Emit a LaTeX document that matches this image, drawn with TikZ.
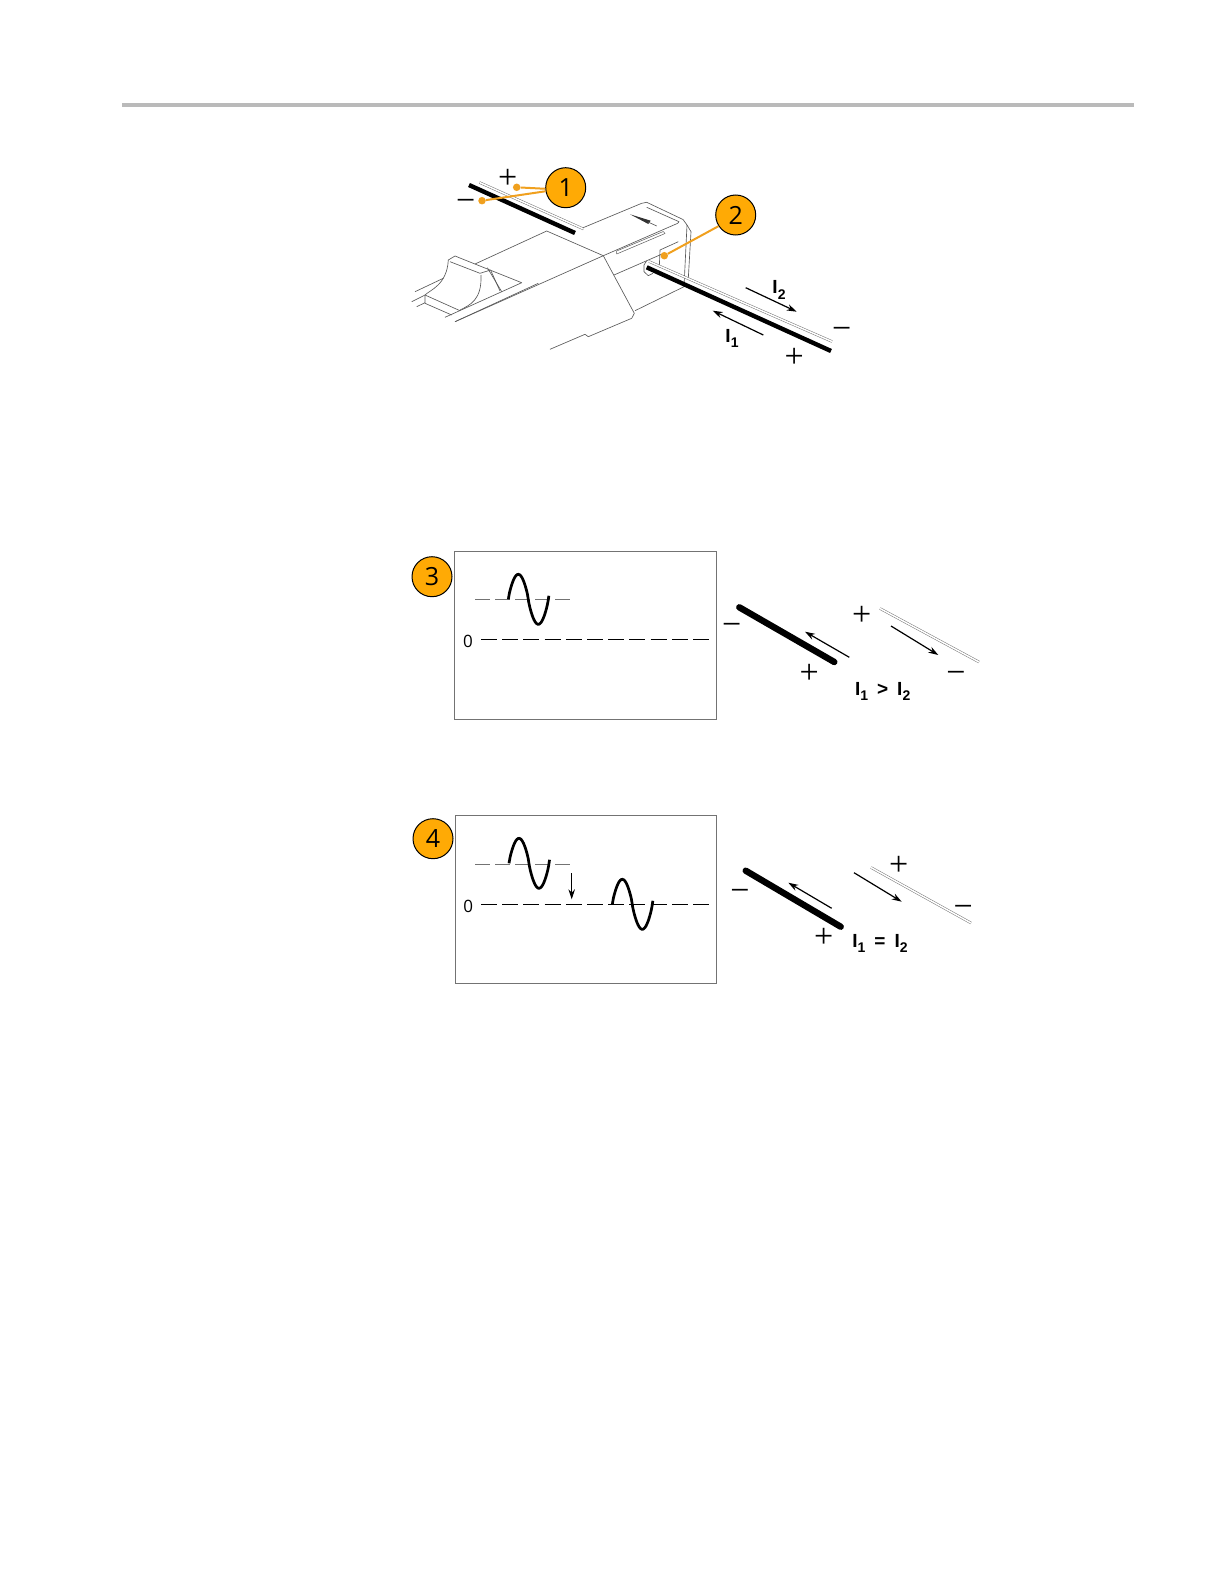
\documentclass[tikz,border=0pt]{standalone}
\usepackage{fontspec}
\setsansfont{Open Sans}
\newfontfamily\curfont{Liberation Sans}
\newfontfamily\signfont{Liberation Serif}
\usetikzlibrary{arrows.meta}
\definecolor{callout}{RGB}{255,170,5}
\definecolor{leadline}{RGB}{240,160,30}
\newcommand{\cursub}[1]{\raisebox{-0.28em}{\fontsize{14}{14}\selectfont #1}}
\tikzset{
  badge/.style={circle,draw=black,line width=1pt,fill=callout,minimum size=40pt,inner sep=0pt,font=\fontsize{25}{25}\selectfont\sffamily},
  leader/.style={leadline,line width=2pt},
  leaddot/.style={circle,fill=leadline,minimum size=7.5pt,inner sep=0pt},
  outline/.style={black!65,line width=0.65pt,line join=round},
  cable/.style={black,line width=4.4pt},
  fatcable/.style={black,line width=6.4pt,line cap=round},
  pair/.style={black!55,line width=0.5pt,double,double distance=1.5pt},
  flow/.style={-{Stealth[length=10pt,width=6.5pt]},line width=1.2pt},
  sign/.style={inner sep=0pt,yshift=-2pt,font=\fontsize{34}{34}\selectfont\signfont},
  minus/.style={sign,yshift=-5pt},
  cur/.style={inner sep=0pt,font=\fontsize{19}{19}\selectfont\curfont\bfseries},
  zero/.style={inner sep=0pt,font=\fontsize{17}{17}\selectfont\sffamily},
  screen/.style={draw=black!55,line width=0.8pt},
  level/.style={black!55,line width=0.7pt,dash pattern=on 15pt off 5pt},
  ground/.style={black,line width=1.4pt,dash pattern=on 16pt off 5.2pt},
  wave/.pic={\draw[black,line width=2.7pt] plot[smooth,domain=0:365,samples=37] (\x/9,{-25*sin(\x)*pow(abs(sin(\x))+0.001,-0.2)});}
}
\begin{document}
\begin{tikzpicture}[x=1pt,y=-1pt]
\useasboundingbox (0,0) rectangle (1224,1584);
%
\draw[black!27,line width=3.5pt](122,105)--(1134,105);
%
% probe body
\draw[outline](475,264)--(546.7,231)--(603.3,255.7)--(634.3,313.3)--(631.7,318.3)--(588.3,336.7)--(585,334.3)--(550,349.3);
\draw[outline](603.3,255.7)--(455,321.7);
% probe head
\draw[outline](581.7,228.3)--(641.7,203.3)--(646.7,202.3)--(683,219.5)--(687,225)--(691,231.7)--(688.3,278.3);
\draw[outline](646.7,207.3)--(679,221.7)--(677.7,223.3)--(603.3,255.7);
\draw[outline](687,225)--(684,286.7)--(635,310.7);
\draw[outline](614,275)--(661,254.5);
\draw[outline](660,250)--(678.3,241.7);
\draw[outline](660,250)--(659.3,267.3);
\draw[outline](646.7,260.7)--(644,265)--(644,271.7)--(648.3,275.7)--(653,273.3);
\draw[outline,line width=0.5pt](616.7,251)--(663.3,231.5)--(665,233.5)--(616.7,254)--cycle;
\fill[black!80](630,214.3)--(650.7,220.7)--(648.3,224)--cycle;
\draw[outline](648,222)--(656.7,226);
% slider
\draw[outline](448.3,260)--(455,256)--(521.7,282.7)--(445,317.3);
\draw[outline](450,261.7)--(480,273.3)--(490.7,270);
\draw[outline](487.3,267.7)--(501.7,291.7);
\draw[outline](491,271)--(500,291);
\draw[outline](455,321.7)--(538.3,283.3);
\draw[outline](448.3,260) .. controls (447,285) and (430,290) .. (425,295)--(460,310.7);
\draw[outline](481,275) .. controls (482,300) and (470,305) .. (460,310);
\draw[outline](425,295)--(425,303.3)--(451.7,315);
\draw[outline](443.3,278.3)--(415,291.7);
\draw[outline](425,295)--(411.7,301.7);
\draw[outline](425,302.7)--(416.7,306.7);
%
% cables
\draw[pair](479.5,182.5)--(583.5,229);
\draw[cable](469,185)--(575,233);
\draw[pair](649,261.5)--(832,341.5);
\draw[cable](646.7,267.3)--(831,351);
\node[sign](plusa) at (507.7,177.3){+};
\node[minus](minusa) at (465.7,198.3){−};
\node[minus](minusb) at (841.7,326.7){−};
\node[sign](plusb) at (794.3,355.7){+};
\node[cur](curtwo) at (779,290){I\cursub{2}};
\node[cur](curone) at (732,338.3){I\cursub{1}};
\coordinate(flowaa) at (745.7,287.7);
\coordinate(flowab) at (796.7,311.7);
\coordinate(flowba) at (763.3,335);
\coordinate(flowbb) at (712.7,310.7);
\draw[flow](flowaa)--(flowab);
\draw[flow](flowba)--(flowbb);
%
% callouts
\node[leaddot](dota) at (516.7,187.3){};
\node[leaddot](dotb) at (482,200.7){};
\node[leaddot](dotc) at (664.3,255.7){};
\node[badge](one) at (565.7,187.7){1};
\node[badge](two) at (735.7,215){2};
\draw[leader](one.183)--(dota);
\draw[leader](one.190)--(dotb);
\draw[leader](two.213)--(dotc);
%
% first screen
\node[badge](three) at (432,576.7){3};
\draw[screen](454.3,551.7) rectangle (716.7,719.3);
\draw[level](475,599.3)--(571,599.3);
\draw (508.3,599.3) pic {wave};
\node[zero](zeroa) at (468,641.7){0};
\draw[ground](481,639.3)--(711,639.3);
\coordinate(fatas) at (739.3,607.3);
\coordinate(fatae) at (834.3,662);
\draw[fatcable](fatas)--(fatae);
\draw[pair](880,608.5)--(979,662);
\node[minus](minusc) at (731.7,622.3){−};
\node[sign](plusc) at (809.3,671.7){+};
\node[sign](plusd) at (861.7,614.3){+};
\node[minus](minusd) at (956,670.7){−};
\coordinate(flowca) at (849.3,657.3);
\coordinate(flowcb) at (805,631.7);
\coordinate(flowda) at (891,626);
\coordinate(flowdb) at (938.3,655);
\draw[flow](flowca)--(flowcb);
\draw[flow](flowda)--(flowdb);
\node[cur](cmpa) at (882.7,691.7){I\cursub{1}\hspace{9pt}>\hspace{9pt}I\cursub{2}};
%
% second screen
\node[badge](four) at (433,838.7){4};
\draw[screen](455.3,815.3) rectangle (716.7,983);
\draw[level](475,864)--(571.7,864);
\draw (509,863.3) pic {wave};
\node[zero](zerob) at (468.3,906){0};
\draw[ground](481,904.3)--(714,904.3);
\draw (612.3,904.3) pic {wave};
\coordinate(dropa) at (571.7,873.3);
\coordinate(dropb) at (571.7,899.3);
\draw[flow,line width=0.9pt](dropa)--(dropb);
\coordinate(fatbs) at (745.7,870.7);
\coordinate(fatbe) at (840.7,926.7);
\draw[fatcable](fatbs)--(fatbe);
\draw[pair](871,867.5)--(971,923);
\node[minus](minuse) at (740,888.3){−};
\node[sign](pluse) at (823.7,936){+};
\node[sign](plusf) at (898.7,864){+};
\node[minus](minusf) at (963.3,904.3){−};
\coordinate(flowea) at (831.7,908.3);
\coordinate(floweb) at (788.3,882.7);
\coordinate(flowfa) at (854,872.7);
\coordinate(flowfb) at (901.7,901.7);
\draw[flow](flowea)--(floweb);
\draw[flow](flowfa)--(flowfb);
\node[cur](cmpb) at (880,943.3){I\cursub{1}\hspace{9pt}=\hspace{9pt}I\cursub{2}};
\end{tikzpicture}
\end{document}
